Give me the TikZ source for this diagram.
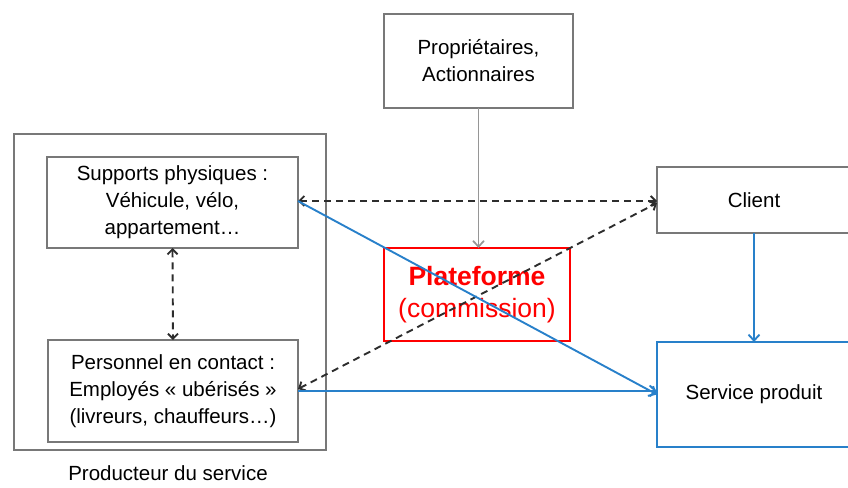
\documentclass[tikz,border=0pt]{standalone}
\usepackage{fontspec}
\setmainfont{Liberation Sans}
\usetikzlibrary{arrows.meta,calc}
\definecolor{boxgray}{RGB}{120,120,120}
\definecolor{arrgray}{RGB}{150,150,150}
\definecolor{lblue}{RGB}{40,128,202}
\definecolor{dashk}{RGB}{45,45,45}
\definecolor{pred}{RGB}{255,0,0}
\begin{document}
\begin{tikzpicture}[x=1pt,y=-1pt,
  every node/.style={inner sep=0pt, outer sep=0pt, align=center},
  gbox/.style={draw=boxgray, line width=1.8pt, rectangle},
  txt/.style={font=\fontsize{20.5}{27}\selectfont},
  dashar/.style={draw=dashk, line width=1.9pt, dash pattern=on 7pt off 5pt, {Straight Barb[length=5pt,width=10pt]}-{Straight Barb[length=5pt,width=10pt]}},
  bluear/.style={draw=lblue, line width=1.9pt, -{Straight Barb[length=6pt,width=11pt]}},
]
\useasboundingbox (0,0) rectangle (848,487);
\clip (0,0) rectangle (848,487);
% boxes
\node[gbox, minimum width=189pt, minimum height=94pt, txt] (prop) at (478.5,61) {Propriétaires,\\Actionnaires};
\node[gbox, minimum width=312pt, minimum height=316pt] (outer) at (170,292) {};
\node[gbox, minimum width=251pt, minimum height=91pt, txt] (sup) at (172.5,202.5) {Supports physiques :\\Véhicule, vélo,\\appartement…};
\node[gbox, minimum width=250pt, minimum height=102pt, txt] (pers) at (173,391) {Personnel en contact :\\Employés « ubérisés »\\(livreurs, chauffeurs…)};
\node[draw=pred, line width=2pt, minimum width=186pt, minimum height=93pt, text=pred, font=\fontsize{26.5}{32}\selectfont] (plat) at (477,294.5) {\textbf{Plateforme}\\(commission)};
\node[gbox, minimum width=194pt, minimum height=66pt, txt] (client) at (754,200) {Client};
\node[draw=lblue, line width=2pt, minimum width=194pt, minimum height=105pt, txt] (serv) at (754,394.5) {Service produit};
\node[txt] (prod) at (168,473) {Producteur du service};
% connectors
\draw[draw=arrgray, line width=1.7pt, -{Straight Barb[length=6pt,width=11pt]}] (prop.south) -- (prop.south |- plat.north);
\draw[dashar] (sup.south) -- (pers.north);
\coordinate (cw) at ($(client.west)+(0,1)$);
\draw[dashar] (sup.east |- cw) -- (cw);
\draw[dashar] ($(pers.east)+(0,-2)$) -- ($(client.west)+(0,3)$);
\draw[bluear] (sup.east |- cw) -- (serv.west);
\draw[bluear] (pers.east) -- (pers.east -| serv.west);
\draw[bluear] (client.south) -- (serv.north);
\end{tikzpicture}
\end{document}
